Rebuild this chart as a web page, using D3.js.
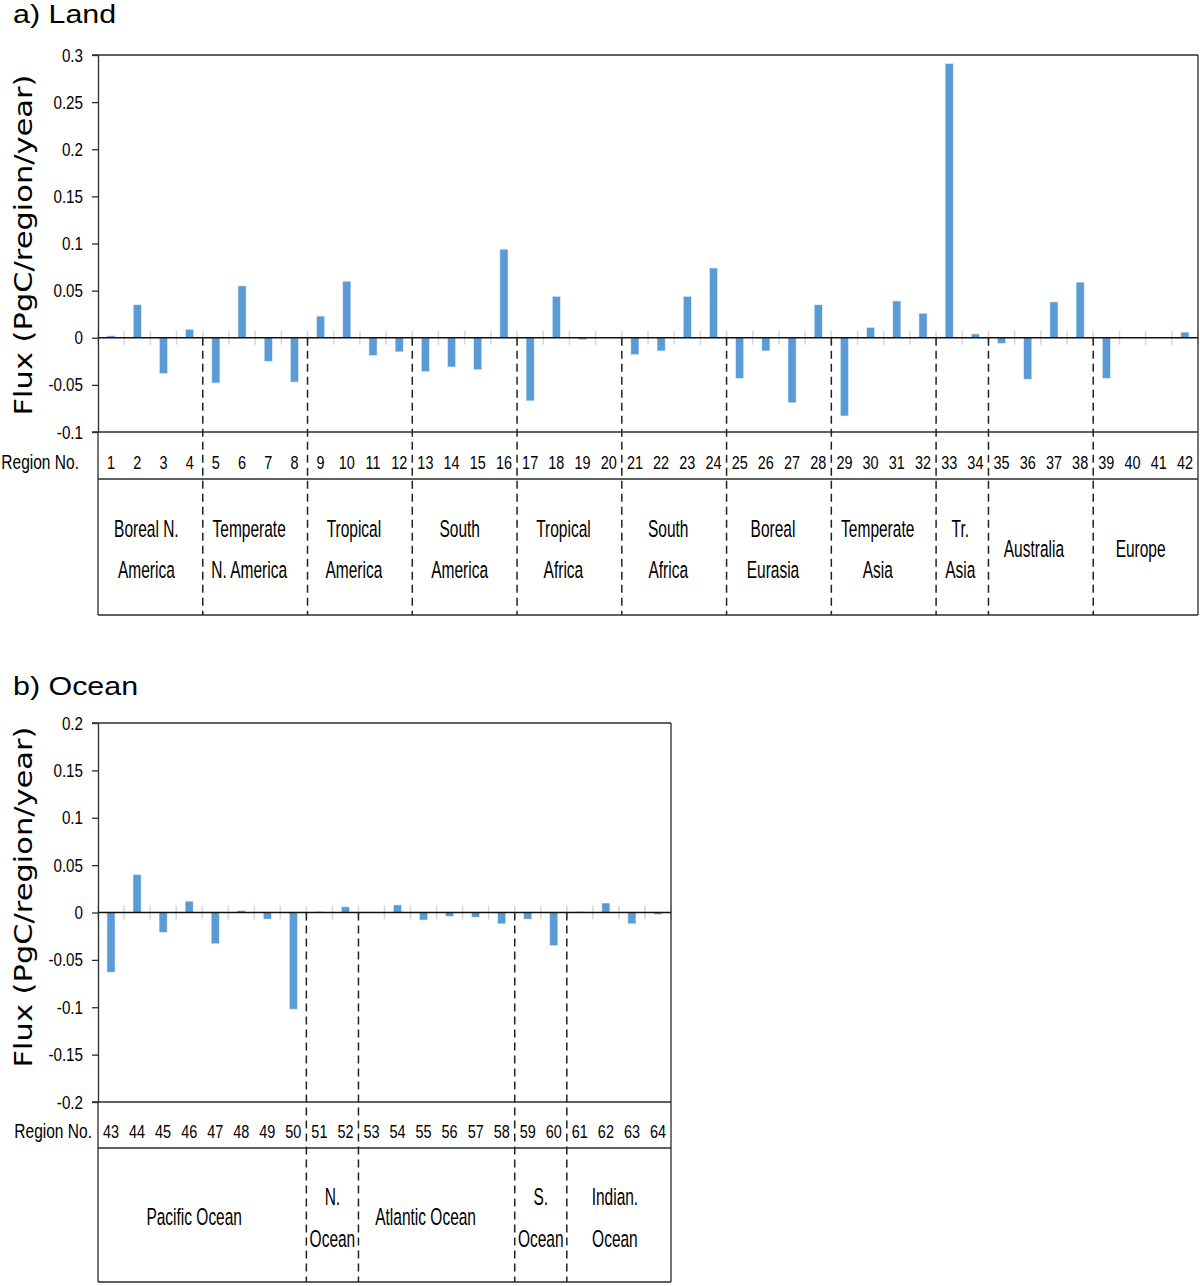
<!DOCTYPE html>
<html>
<head>
<meta charset="utf-8">
<script src="https://cdn.jsdelivr.net/npm/d3@7"></script>
<style>
  body { margin: 0; background: #fff; }
  svg { display: block; }
</style>
</head>
<body>
<svg id="chart" width="1200" height="1286"></svg>
<script>
// a) Land, regions 1-42
var landIds = [1,2,3,4,5,6,7,8,9,10,11,12,13,14,15,16,17,18,19,20,21,
               22,23,24,25,26,27,28,29,30,31,32,33,34,35,36,37,38,39,40,41,42];
var landFlux = [0.002, 0.035, -0.038, 0.009, -0.048, 0.055, -0.025, -0.047,
                0.023, 0.060, -0.019, -0.015, -0.036, -0.031, -0.034, 0.094,
                -0.067, 0.044, -0.002, 0, -0.018, -0.014, 0.044, 0.074,
                -0.043, -0.014, -0.069, 0.035, -0.083, 0.011, 0.039, 0.026,
                0.291, 0.004, -0.006, -0.044, 0.038, 0.059, -0.043, 0, 0, 0.006];
var landTicks = [-0.1, -0.05, 0, 0.05, 0.1, 0.15, 0.2, 0.25, 0.3];
var landTickLabels = ["-0.1", "-0.05", "0", "0.05", "0.1", "0.15", "0.2", "0.25", "0.3"];
var landGroupNames = [["Boreal N.", "America"], ["Temperate", "N. America"], ["Tropical", "America"],
                      ["South", "America"], ["Tropical", "Africa"], ["South", "Africa"],
                      ["Boreal", "Eurasia"], ["Temperate", "Asia"], ["Tr.", "Asia"],
                      ["Australia"], ["Europe"]];
var landGroupEnds = [4, 8, 12, 16, 20, 24, 28, 32, 34, 38, 42]; // last region of each group

// b) Ocean, regions 43-64
var oceanIds = [43,44,45,46,47,48,49,50,51,52,53,54,55,56,57,58,59,60,61,62,63,64];
var oceanFlux = [-0.063, 0.040, -0.021, 0.012, -0.033, 0.002, -0.007, -0.102,
                 0.001, 0.006, 0.0005, 0.008, -0.008, -0.004, -0.005, -0.012,
                 -0.007, -0.035, 0.001, 0.010, -0.012, -0.002];
var oceanTicks = [-0.2, -0.15, -0.1, -0.05, 0, 0.05, 0.1, 0.15, 0.2];
var oceanTickLabels = ["-0.2", "-0.15", "-0.1", "-0.05", "0", "0.05", "0.1", "0.15", "0.2"];
var oceanGroupNames = [["Pacific Ocean"], ["N.", "Ocean"], ["Atlantic Ocean"], ["S.", "Ocean"], ["Indian.", "Ocean"]];
var oceanGroupEnds = [50, 52, 58, 60, 64];

var svg = d3.select("#chart");
var sans = "'Liberation Sans', Arial, sans-serif";
var ink = "#2b2b2b";

function drawPanel(p) {
  var g = svg.append("g");
  var x = d3.scaleBand().domain(p.ids).range([p.left, p.right])
      .paddingInner(0.69).paddingOuter(0.345);
  var y = d3.scaleLinear().domain([p.ticks[0], p.ticks[p.ticks.length - 1]])
      .range([p.bottom, p.top]);
  var edge = function(i) { return p.left + i * x.step(); };
  var y0 = y(0);

  // panel title
  g.append("text")
    .attr("transform", "translate(13," + p.titleY + ") scale(1.17,1)")
    .attr("font-family", sans).attr("font-size", 26)
    .text(p.title);

  // y title
  g.append("text")
    .attr("transform", "translate(32," + p.yTitleY + ") scale(0.8,1) rotate(-90)")
    .attr("font-family", "'DejaVu Sans', Verdana, sans-serif").attr("font-size", 30.5)
    .attr("text-anchor", "middle")
    .text("Flux (PgC/region/year)");

  // light category ticks across zero line
  g.selectAll(".cat-tick").data(d3.range(p.ids.length + 1)).enter()
    .append("line").attr("class", "cat-tick")
    .attr("x1", edge).attr("x2", edge)
    .attr("y1", y0 - 7).attr("y2", y0 + 7)
    .attr("stroke", "#d9d9d9").attr("stroke-width", 1.6);

  // bars
  g.selectAll(".bar").data(p.flux).enter()
    .append("rect").attr("class", "bar")
    .attr("x", function(d, i) { return x(p.ids[i]); })
    .attr("y", function(d) { return y(Math.max(0, d)); })
    .attr("width", x.bandwidth())
    .attr("height", function(d) { return Math.abs(y(d) - y0); })
    .attr("fill", "#5b9bd5")
    .attr("stroke", "#e4eef8").attr("stroke-width", 0.6);

  // zero line
  g.append("line")
    .attr("x1", p.left).attr("x2", p.right).attr("y1", y0).attr("y2", y0)
    .attr("stroke", "#111").attr("stroke-width", 1.3);

  // y axis
  var axis = g.append("g")
    .attr("transform", "translate(" + p.left + ",0)")
    .call(d3.axisLeft(y).tickValues(p.ticks)
      .tickFormat(function(d, i) { return p.labels[i]; })
      .tickSize(6).tickSizeOuter(0));
  axis.select(".domain").attr("stroke", ink).attr("stroke-width", 1.3);
  axis.selectAll(".tick line").attr("stroke", ink).attr("stroke-width", 1.3);
  axis.selectAll(".tick text")
    .attr("x", 0)
    .attr("transform", "translate(-15,0) scale(0.8,1)")
    .attr("font-family", sans).attr("font-size", 19).attr("fill", "#000");

  // frame and table lines
  var frame = [
    [p.left - 6, p.top, p.right, p.top],
    [p.right, p.top, p.right, p.tableY],
    [p.left - 6, p.bottom, p.right, p.bottom],
    [p.left, p.rowY, p.right, p.rowY],
    [p.left, p.tableY, p.right, p.tableY],
    [p.left, p.bottom, p.left, p.tableY]
  ];
  g.selectAll(".frame").data(frame).enter()
    .append("line").attr("class", "frame")
    .attr("x1", function(d) { return d[0]; }).attr("y1", function(d) { return d[1]; })
    .attr("x2", function(d) { return d[2]; }).attr("y2", function(d) { return d[3]; })
    .attr("stroke", ink).attr("stroke-width", 1.3);

  // dashed group separators
  var sepIdx = p.groupEnds.slice(0, -1).map(function(e) { return p.ids.indexOf(e) + 1; });
  g.selectAll(".sep").data(sepIdx).enter()
    .append("line").attr("class", "sep")
    .attr("x1", edge).attr("x2", edge)
    .attr("y1", y0).attr("y2", p.tableY)
    .attr("stroke", "#222").attr("stroke-width", 1.5)
    .attr("stroke-dasharray", "8,5");

  // region numbers
  g.append("text")
    .attr("transform", "translate(" + p.rowLabelRight + "," + p.numBaseline + ") scale(0.74,1)")
    .attr("font-family", sans).attr("font-size", 21).attr("text-anchor", "end")
    .text("Region No.");
  g.selectAll(".num").data(p.ids).enter()
    .append("text").attr("class", "num")
    .attr("transform", function(d) {
      return "translate(" + (x(d) + x.bandwidth() / 2) + "," + p.numBaseline + ") scale(0.78,1)";
    })
    .attr("font-family", sans).attr("font-size", 18.5).attr("text-anchor", "middle")
    .text(function(d) { return d; });

  // region group names
  var start = 0;
  p.groupNames.forEach(function(lines, gi) {
    var end = p.ids.indexOf(p.groupEnds[gi]) + 1;
    var cx = (edge(start) + edge(end)) / 2 - p.nameShift[gi];
    var bases = lines.length === 1 ? [p.nameOne] : p.nameTwo;
    lines.forEach(function(t, li) {
      g.append("text")
        .attr("transform", "translate(" + cx + "," + bases[li] + ") scale(0.66,1)")
        .attr("font-family", sans).attr("font-size", 23.5).attr("text-anchor", "middle")
        .text(t);
    });
    start = end;
  });
}

drawPanel({
  title: "a) Land", titleY: 23, yTitleY: 245,
  ids: landIds, flux: landFlux, ticks: landTicks, labels: landTickLabels,
  groupNames: landGroupNames, groupEnds: landGroupEnds,
  left: 98, right: 1198, top: 55, bottom: 432, rowY: 479, tableY: 615,
  numBaseline: 469, rowLabelRight: 79, nameOne: 557, nameTwo: [537, 578],
  nameShift: [4, 6, 6, 5, 6, 6, 6, 6, 2, 7, 5]
});

drawPanel({
  title: "b) Ocean", titleY: 695, yTitleY: 897,
  ids: oceanIds, flux: oceanFlux, ticks: oceanTicks, labels: oceanTickLabels,
  groupNames: oceanGroupNames, groupEnds: oceanGroupEnds,
  left: 98, right: 671, top: 723, bottom: 1102, rowY: 1148, tableY: 1282,
  numBaseline: 1138, rowLabelRight: 92, nameOne: 1225, nameTwo: [1205, 1247],
  nameShift: [8, 0, 11, 0, 4]
});
</script>
</body>
</html>
